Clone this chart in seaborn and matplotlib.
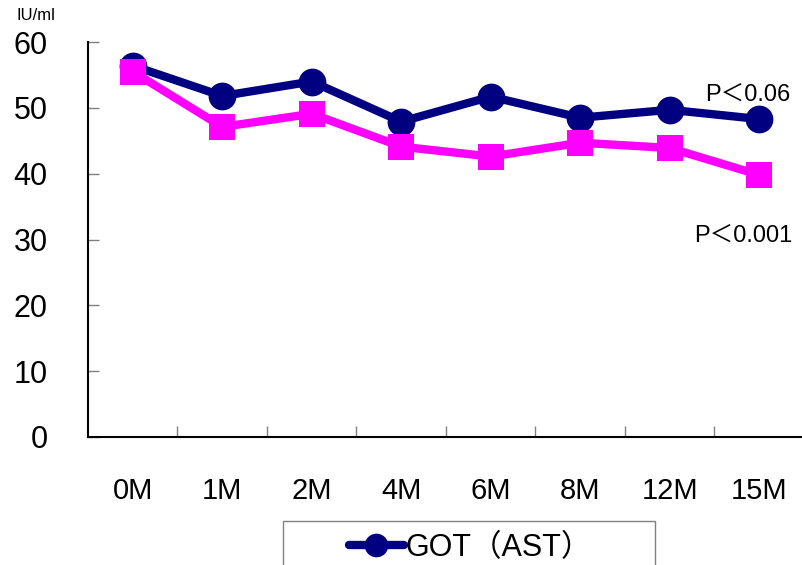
import matplotlib
matplotlib.use("Agg")
import matplotlib.pyplot as plt
from matplotlib.patches import Rectangle
from matplotlib.lines import Line2D
import seaborn as sns
import numpy as np

# Months of follow-up and the two series (IU/ml)
months = ["0M", "1M", "2M", "4M", "6M", "8M", "12M", "15M"]
got_ast = [56.4, 51.8, 54.0, 47.9, 51.7, 48.5, 49.7, 48.3]
second_series = [55.5, 47.1, 49.1, 44.1, 42.6, 44.7, 43.9, 39.8]
y_ticks = [0, 10, 20, 30, 40, 50, 60]

sns.set_theme(style="white")
plt.rcParams["font.family"] = ["Liberation Sans", "Noto Sans CJK JP", "DejaVu Sans"]
plt.rcParams["text.color"] = "black"
plt.rcParams["legend.labelcolor"] = "black"

NAVY = "#000080"
MAGENTA = "#FF00FF"

fig = plt.figure(figsize=(8.03, 5.65), dpi=100)
ax = fig.add_axes([88 / 803, 128 / 565, 716 / 803, 395 / 565])

x = np.arange(len(months))
sns.lineplot(x=x, y=got_ast, ax=ax, color=NAVY, linewidth=6, marker="o",
             markersize=20, markeredgewidth=0, zorder=3)
sns.lineplot(x=x, y=second_series, ax=ax, color=MAGENTA, linewidth=6, marker="s",
             markersize=19, markeredgewidth=0, zorder=4)

ax.set_xlim(-0.5, len(months) - 0.5)
ax.set_ylim(0, 60)

# Category labels at centers, tick marks at the category boundaries
ax.set_xticks(x)
ax.set_xticklabels(months, fontsize=21)
ax.set_xticks(np.arange(0.5, len(months) - 1, 1.0), minor=True)
ax.tick_params(axis="x", which="major", length=0, pad=29, labelcolor="black")
ax.tick_params(axis="x", which="minor", direction="in", length=8, width=1,
               color="#808080", bottom=True)

ax.set_yticks(y_ticks)
ax.set_yticklabels([str(v) for v in y_ticks], fontsize=22)
ax.tick_params(axis="y", which="major", direction="in", length=8, width=1,
               color="#808080", pad=29, left=True, labelcolor="black")

for side in ["top", "right"]:
    ax.spines[side].set_visible(False)
for side in ["left", "bottom"]:
    ax.spines[side].set_color("black")
    ax.spines[side].set_linewidth(1.5)

ax.set_xlabel("")
ax.set_ylabel("")
ax.grid(False)

fig.text(17 / 803, 1 - 16 / 565, "IU/ml", fontsize=12, ha="left", va="center",
         color="black")

ax.text(790 / 803, 1 - 95 / 565, "P＜0.06", transform=fig.transFigure,
        fontsize=17, ha="right", va="center", color="black")
ax.text(792 / 803, 1 - 236 / 565, "P＜0.001", transform=fig.transFigure,
        fontsize=17, ha="right", va="center", color="black")

# Legend box, running off the bottom edge of the figure
fig.patches.append(Rectangle((283 / 803, -0.05), (655 - 283) / 803, 0.05 + 44 / 565,
                             transform=fig.transFigure, fill=False,
                             edgecolor="#808080", linewidth=1))
handle = Line2D([], [], color=NAVY, linewidth=6, marker="o", markersize=17,
                markeredgewidth=0, solid_capstyle="round")
fig.legend(handles=[handle], labels=["GOT（AST）"], loc="center",
           bbox_to_anchor=(470 / 803, 1 - 548 / 565), frameon=False,
           fontsize=22, handlelength=1.8, handletextpad=0.05, borderpad=0,
           labelcolor="black")

fig.savefig("out.png", dpi=100)
